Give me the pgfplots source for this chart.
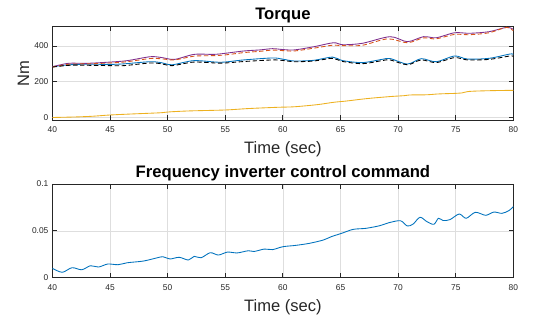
\documentclass[border=0pt]{standalone}
\usepackage{pgfplots}
\pgfplotsset{compat=1.18}
\usepackage{fontspec}
\setmainfont{Liberation Sans}
\definecolor{mblue}{RGB}{0,114,189}
\definecolor{morange}{RGB}{217,83,25}
\definecolor{myellow}{RGB}{237,177,32}
\definecolor{mpurple}{RGB}{126,47,142}
\definecolor{axgray}{RGB}{38,38,38}
\definecolor{gridgray}{RGB}{222,222,222}
\pgfplotsset{
  mstyle/.style={
    scale only axis, width=345.75pt,
    xmin=40, xmax=80, xtick={40,45,50,55,60,65,70,75,80},
    xticklabels={40,45,50,55,60,65,70,75,80},
    grid=major, major grid style={gridgray, line width=0.5pt},
    axis line style={axgray, line width=0.6pt},
    tick style={axgray, line width=0.6pt},
    tick align=inside, major tick length=3.5pt,
    xtick pos=both, ytick pos=both,
    ticklabel style={font=\fontsize{6.3}{7}\selectfont, text=axgray},
    xticklabel style={inner sep=0pt, yshift=-5pt},
    yticklabel style={inner sep=0pt, xshift=-2.8pt},
    label style={font=\fontsize{12.4}{14}\selectfont, text=axgray, inner sep=0pt},
    title style={font=\bfseries\fontsize{12.5}{14}\selectfont, inner sep=0pt, anchor=base, yshift=-6pt},
  },
  mline/.style={line width=0.65pt, smooth},
  mdash/.style={line width=0.65pt, smooth, dash pattern=on 3.3pt off 1.9pt},
}
\begin{document}
\begin{tikzpicture}
\path[use as bounding box] (0,0) rectangle (399.75pt,238.5pt);
\begin{axis}[mstyle, at={(39.3pt,148.5pt)}, anchor=south west, height=70pt,
  ymin=-14, ymax=508, ytick={0,200,400}, yticklabels={0,200,400},
  title={Torque}, title style={at={(axis description cs:0.5,1.072)}},
  xlabel={Time (sec)}, xlabel style={at={(axis description cs:0.5,-0.228)}, anchor=north},
  ylabel={Nm}, ylabel style={at={(axis description cs:-0.05,0.5)}, anchor=south},
]
\addplot[mblue, mline] coordinates {
(40,284) (41.5,295) (43,298) (45,297) (46.2,300) (48.5,312) (49.5,306) (50.4,295) (52.3,318) (54.6,309) (56.6,322) (59.1,333) (60,326) (61,316) (62.7,320) (64.3,338) (65.2,318) (66.9,307) (68.6,325) (69.3,330) (70.8,299) (72,329) (73.3,312) (74.9,344) (76,327) (77.9,331) (79.7,355) (80,352)};
\addplot[mpurple, mline] coordinates {
(40,284) (41.4,303) (43,303) (45,310) (46.5,318) (48.5,340) (49.5,335) (50.6,325) (52.3,353) (54,353) (55,359) (56.6,372) (58,378) (59.1,385) (60,380) (61,378) (62.7,396) (64.4,418) (65.2,407) (66.9,415) (69.3,452) (70.8,424) (72.2,452) (73.3,446) (74.9,474) (76.2,471) (77.9,480) (79.4,504) (80,493)};
\addplot[myellow, mline] coordinates {
(40,0) (42,3) (43.5,7) (45,14) (47,20) (48.9,25) (49.5,27) (50.3,32) (52,37) (55,42) (57,50) (59.5,57) (61,60) (63,72) (64.4,85) (65.5,92) (66.9,103) (68,110) (69.5,118) (70.5,122) (71,126) (72.5,127) (73.3,131) (74,133) (75,135) (75.5,137) (76.2,146) (78,150) (80,152)};
\addplot[morange, mdash] coordinates {
(40,282) (41.4,298) (43,300) (45,305) (46.5,312) (48.5,330) (49.5,328) (50.6,322) (52.3,343) (54,346) (55,350) (56.6,363) (58,370) (59.1,377) (60,374) (61,372) (62.7,388) (64.4,405) (65.2,402) (66.9,404) (69.1,440) (70.8,418) (72.2,445) (73.3,440) (74.9,465) (76.2,463) (77.9,474) (79.4,504) (80,484)};
\addplot[black, mdash] coordinates {
(40,282) (41.5,292) (43,292) (45,290) (46.2,290) (48.5,305) (49.5,300) (50.4,290) (52.3,310) (54.6,304) (56.6,313) (59.1,322) (60,319) (61,312) (62.7,316) (64.3,331) (65.2,313) (66.9,301) (68.6,318) (69.3,322) (70.8,295) (72,322) (73.3,307) (74.9,335) (76,322) (77.9,325) (79.7,344) (80,341)};
\end{axis}
\begin{axis}[mstyle, at={(39.3pt,30.2pt)}, anchor=south west, height=70.3pt,
  ymin=0, ymax=0.1, ytick={0,0.05,0.1}, yticklabels={0,0.05,0.1},
  title={Frequency inverter control command}, title style={at={(axis description cs:0.5,1.072)}},
  xlabel={Time (sec)}, xlabel style={at={(axis description cs:0.5,-0.228)}, anchor=north},
]
\addplot[mblue, mline] coordinates {
(40,0.0100) (40.85,0.0058) (41.7,0.0107) (42.55,0.0085) (43.3,0.0128) (44,0.0114) (44.8,0.0146) (45.7,0.0139) (46.5,0.0160) (47.9,0.0178) (49.1,0.0213) (49.6,0.0224) (50.2,0.0200) (51.0,0.0218) (51.8,0.0189) (52.3,0.0228) (52.9,0.0213) (53.7,0.0267) (54.4,0.0242) (55.2,0.0274) (56,0.0264) (57,0.0288) (57.5,0.0280) (58.4,0.0306) (59.1,0.0300) (60,0.0331) (61.1,0.0345) (62.3,0.0367) (63.5,0.0402) (64.2,0.0438) (65.1,0.0474) (66.1,0.0516) (67.2,0.0527) (68.4,0.0555) (69.2,0.0587) (70.2,0.0608) (70.8,0.0552) (71.3,0.0573) (71.9,0.0645) (72.5,0.0598) (73.1,0.0570) (73.5,0.0634) (73.9,0.0610) (74.5,0.0620) (75.3,0.0680) (75.9,0.0634) (76.7,0.0698) (77.6,0.0666) (78.3,0.0701) (79.0,0.0687) (79.6,0.0715) (80,0.0760)};
\end{axis}
\end{tikzpicture}
\end{document}
